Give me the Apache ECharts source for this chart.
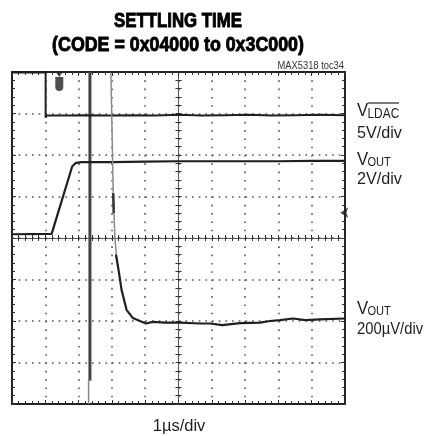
<!DOCTYPE html>
<html>
<head>
<meta charset="utf-8">
<script src="https://cdn.jsdelivr.net/npm/echarts@6/dist/echarts.min.js"></script>
<style>
  html, body { margin: 0; padding: 0; background: #fff; }
  #chart { width: 429px; height: 436px; }
</style>
</head>
<body>
<div id="chart"></div>
<script>
// Scope capture: 10 horizontal divisions (1us/div), 8 vertical divisions.
const xDivs = [0, 10];
const yDivs = [0, 8];

// LDAC control input (5V/div)
const ldacT = [0, 1.01, 1.01, 1.03, 1.6, 2.2, 2.9, 3.6, 4.3, 5.0, 5.7, 6.4, 7.1, 7.8, 8.5, 9.2, 10];
const ldacV = [7.99, 7.99, 6.9, 6.95, 6.95, 6.96, 6.95, 6.96, 6.95, 6.97, 6.95, 6.96, 6.97, 6.95, 6.96, 6.97, 6.96];

// Output, coarse scale (2V/div)
const voutT = [0, 1.19, 1.81, 1.92, 2.09, 3, 4, 5, 6, 7, 8, 9, 10];
const voutV = [4.09, 4.10, 5.73, 5.81, 5.83, 5.83, 5.84, 5.85, 5.85, 5.85, 5.85, 5.86, 5.86];

// Output, fine scale (200uV/div): fast slewing part (faint) and settled part
const fineSlewT = [2.97, 3.01, 3.04, 3.09, 3.15];
const fineSlewV = [7.98, 6.36, 5.08, 4.0, 3.47];
const fineKneeT = [3.04, 3.055];
const fineKneeV = [5.08, 4.6];
const fineT = [3.12, 3.15, 3.20, 3.29, 3.44, 3.63, 3.84, 4.02, 4.08, 4.23, 4.59, 5.05, 5.65, 5.95, 6.31, 6.85, 7.45, 7.75, 8.05, 8.44, 8.80, 9.25, 10];
const fineV = [3.6, 3.47, 3.23, 2.75, 2.27, 2.07, 2.0, 1.94, 1.90, 1.98, 1.96, 1.96, 1.94, 1.94, 1.90, 1.95, 1.96, 2.0, 2.02, 2.06, 2.02, 2.04, 2.06];

// Cursor line
const cursorT = [2.34, 2.34];
const cursorV = [8, 0.56];
const cursorTailT = [2.30, 2.30];
const cursorTailV = [0.6, 0];

// Trigger marker and ground reference marker
const trigT = 1.42, trigV = 7.71, trigArrowV = 7.94;
const refT = 9.86, refV = 4.61;

const pairs = (t, v) => t.map((x, i) => [x, v[i]]);

// No condensed face is installed, so text is narrowed with a horizontal scale.
const SANS = '"Liberation Sans", Arial, Helvetica, sans-serif';
const INK = '#1f1f1f';

const tickStyle = { color: '#333', width: 1 };
function axisDef(range, extra) {
  return Object.assign({
    type: 'value', min: range[0], max: range[1], interval: 1,
    axisLabel: { show: false },
    axisLine: { show: true, onZero: false, lineStyle: { color: '#222', width: 2 } },
    axisTick: { show: true, inside: true, length: 4, lineStyle: tickStyle },
    minorTick: { show: true, splitNumber: 5, length: 3, lineStyle: tickStyle },
    splitLine: { show: false }
  }, extra);
}
const centerLine = { show: true, onZero: false, lineStyle: { color: '#555', width: 1 } };

const chart = echarts.init(document.getElementById('chart'), null, { renderer: 'canvas' });

function line(data, color, width, z) {
  return {
    type: 'line', data, showSymbol: false, symbol: 'none', smooth: false,
    lineStyle: { color, width }, z: z || 3, silent: true
  };
}

function label(text, x, y, size, opts) {
  opts = opts || {};
  const style = {
    text, font: (opts.bold ? 'bold ' : '') + size + 'px ' + SANS,
    fill: opts.fill || INK, align: opts.align || 'left', verticalAlign: 'middle'
  };
  if (opts.heavy) { style.stroke = opts.fill || INK; style.lineWidth = opts.heavy; }
  return { type: 'text', x, y, scaleX: opts.scaleX || 1, z: 10, style };
}

chart.setOption({
  animation: false,
  backgroundColor: '#fff',
  grid: { left: 12, top: 72, width: 333, height: 332, containLabel: false },
  xAxis: [
    axisDef(xDivs, { position: 'bottom',
      splitLine: { show: true, lineStyle: { color: '#555', width: 1.6, type: [1.6, 6.7] } } }),
    axisDef(xDivs, { position: 'top' }),
    axisDef(xDivs, { position: 'bottom', offset: -166, axisLine: centerLine,
      axisTick: { show: true, inside: true, length: 3, lineStyle: tickStyle } }),
    axisDef(xDivs, { position: 'bottom', offset: -166, axisLine: centerLine,
      axisTick: { show: true, inside: false, length: 3, lineStyle: tickStyle } })
  ],
  yAxis: [
    axisDef(yDivs, { position: 'left',
      splitLine: { show: true, lineStyle: { color: '#555', width: 1.6, type: [1.6, 5.07] } } }),
    axisDef(yDivs, { position: 'right' }),
    axisDef(yDivs, { position: 'left', offset: -166.5, axisLine: centerLine,
      axisTick: { show: true, inside: true, length: 3, lineStyle: tickStyle } }),
    axisDef(yDivs, { position: 'left', offset: -166.5, axisLine: centerLine,
      axisTick: { show: true, inside: false, length: 3, lineStyle: tickStyle } })
  ],
  series: [
    line(pairs(cursorT, cursorV), '#444', 3, 2),
    line(pairs(cursorTailT, cursorTailV), '#888', 1.5, 2),
    line(pairs(ldacT, ldacV), INK, 2),
    line(pairs(voutT, voutV), INK, 2.2),
    line(pairs(fineSlewT, fineSlewV), '#8a8a8a', 1.5),
    line(pairs(fineKneeT, fineKneeV), '#333', 2.5),
    line(pairs(fineT, fineV), INK, 2.2),
    {
      type: 'scatter', silent: true, z: 5,
      data: [
        { value: [trigT, trigV], symbol: 'path://M0,0 L8,0 L8,10 Q8,14 4,14 Q0,14 0,10 Z', symbolSize: [8, 14] },
        { value: [trigT, trigArrowV], symbol: 'triangle', symbolRotate: 180, symbolSize: [7, 5] },
        { value: [refT, refV], symbol: 'arrow', symbolRotate: 90, symbolSize: [8, 8] }
      ],
      itemStyle: { color: '#222' }
    }
  ],
  graphic: [
    label('SETTLING TIME', 178, 21, 20, { bold: true, align: 'center', scaleX: 0.84, fill: '#000', heavy: 0.9 }),
    label('(CODE = 0x04000 to 0x3C000)', 178, 45, 20, { bold: true, align: 'center', scaleX: 0.89, fill: '#000', heavy: 0.9 }),
    label('MAX5318 toc34', 344, 65.5, 11, { align: 'right', scaleX: 0.85, fill: '#333' }),

    label('V', 357, 110.5, 19, { scaleX: 0.88 }),
    label('LDAC', 367.5, 114, 14, { scaleX: 0.85 }),
    { type: 'line', z: 10, shape: { x1: 368, y1: 103, x2: 399, y2: 103 }, style: { stroke: INK, lineWidth: 1.2 } },
    label('5V/div', 357, 133, 17, { scaleX: 0.95 }),

    label('V', 357, 160, 19, { scaleX: 0.88 }),
    label('OUT', 367.5, 162, 13, { scaleX: 0.85 }),
    label('2V/div', 357, 179.5, 17, { scaleX: 0.95 }),

    label('V', 357, 309, 19, { scaleX: 0.88 }),
    label('OUT', 367.5, 311, 13, { scaleX: 0.85 }),
    label('200µV/div', 357, 329, 17, { scaleX: 0.87 }),

    label('1µs/div', 179, 426, 17, { align: 'center', scaleX: 0.97 })
  ]
});
</script>
</body>
</html>
